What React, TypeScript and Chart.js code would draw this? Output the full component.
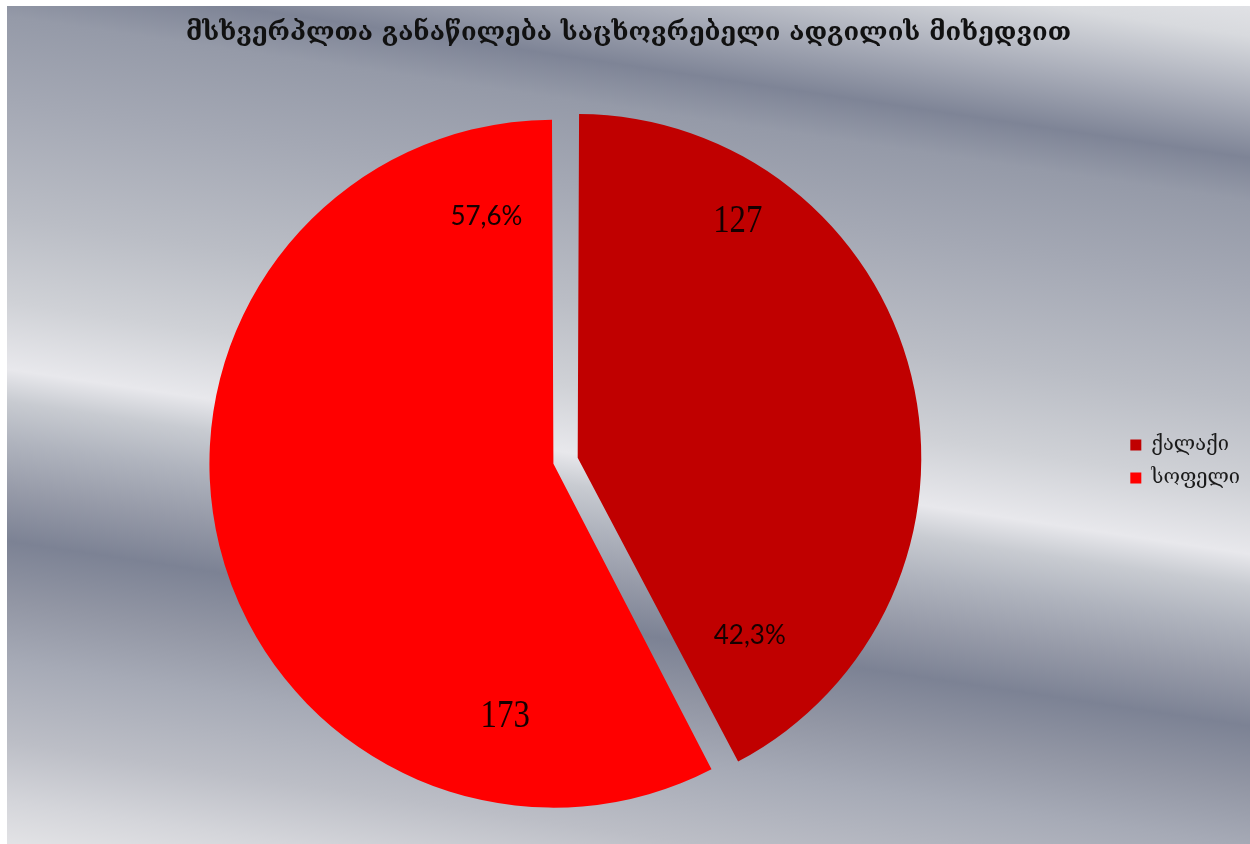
import React, { useEffect, useRef } from 'react';
import { Chart, registerables } from 'chart.js';

Chart.register(...registerables);

// ---- data ----
const chartTitle = 'მსხვერპლთა განაწილება საცხოვრებელი ადგილის მიხედვით';
const categories = ['ქალაქი', 'სოფელი'];
const values = [127, 173];
const percentLabels = ['42,3%', '57,6%'];
const sliceColors = ['#C00000', '#FF0000'];

// ---- label placement (fraction of slice angle, fraction of radius) ----
const valueLabelPlacement = [
  { angleFrac: 0.224, radiusFrac: 0.83 },
  { angleFrac: 0.185, radiusFrac: 0.748 },
];
const percentLabelPlacement = [
  { angleFrac: 0.892, radiusFrac: 0.72 },
  { angleFrac: 0.927, radiusFrac: 0.745 },
];

const CANVAS_W = 1243;
const CANVAS_H = 838;
const PAGE_X = 7;
const PAGE_Y = 6;

// background: silver band gradient, bands tilted down to the right
const bgStops: [number, string][] = [
  [-180, '#e0e1e5'],
  [-150, '#d8dade'],
  [-85, '#a8acb8'],
  [-28, '#7e8496'],
  [15, '#959aa8'],
  [100, '#a4a8b4'],
  [215, '#babdc5'],
  [300, '#cfd1d6'],
  [368, '#e8e8ec'],
  [400, '#c8cbd1'],
  [440, '#b0b4be'],
  [490, '#969aa8'],
  [540, '#7c8294'],
  [600, '#9296a4'],
  [660, '#a6aab6'],
  [740, '#bcbec6'],
  [800, '#d4d5da'],
  [860, '#e8e8ea'],
];

const backgroundPlugin = {
  id: 'silverBackground',
  beforeDraw(chart: any) {
    const ctx = chart.ctx as CanvasRenderingContext2D;
    const slope = 0.1488;
    const nLen = Math.sqrt(1 + slope * slope);
    const nx = -slope / nLen;
    const ny = 1 / nLen;
    const sMin = bgStops[0][0];
    const sMax = bgStops[bgStops.length - 1][0];
    const d = (sMax - sMin) * ny;
    const x0 = 0 - PAGE_X;
    const y0 = sMin - PAGE_Y;
    const g = ctx.createLinearGradient(x0, y0, x0 + nx * d, y0 + ny * d);
    bgStops.forEach(([s, c]) => g.addColorStop((s - sMin) / (sMax - sMin), c));
    ctx.save();
    ctx.fillStyle = g;
    ctx.fillRect(0, 0, chart.width, chart.height);
    ctx.restore();
  },
};

const sliceLabelPlugin = {
  id: 'sliceLabels',
  afterDatasetsDraw(chart: any) {
    const ctx = chart.ctx as CanvasRenderingContext2D;
    const meta = chart.getDatasetMeta(0);
    meta.data.forEach((arc: any, i: number) => {
      const p = arc.getProps(['x', 'y', 'startAngle', 'endAngle', 'outerRadius', 'circumference'], true);
      const off = (arc.options.offset || 0) / 4;
      const half = (p.startAngle + p.endAngle) / 2;
      const fix = 1 - Math.sin(Math.min(Math.PI, p.circumference));
      const cx = p.x + Math.cos(half) * off;
      const cy = p.y + Math.sin(half) * off;
      const rDrawn = p.outerRadius + off * fix;
      const place = (pl: { angleFrac: number; radiusFrac: number }) => {
        const a = p.startAngle + pl.angleFrac * (p.endAngle - p.startAngle);
        const r = pl.radiusFrac * rDrawn;
        return [cx + Math.cos(a) * r, cy + Math.sin(a) * r];
      };
      ctx.save();
      ctx.textAlign = 'center';
      ctx.textBaseline = 'middle';
      ctx.fillStyle = '#160000';
      const [vx, vy] = place(valueLabelPlacement[i]);
      ctx.font = '40px "Liberation Serif", "Times New Roman", serif';
      ctx.save();
      ctx.translate(vx, vy);
      ctx.scale(0.82, 1);
      ctx.fillText(String(values[i]), 0, 0);
      ctx.restore();
      const [px, py] = place(percentLabelPlacement[i]);
      ctx.font = '26px Lato, "Open Sans", sans-serif';
      ctx.fillText(percentLabels[i], px, py);
      ctx.restore();
    });
  },
};

export default function App() {
  const canvasRef = useRef<HTMLCanvasElement | null>(null);

  useEffect(() => {
    if (!canvasRef.current) return;
    const chart = new Chart(canvasRef.current, {
      type: 'pie',
      data: {
        labels: categories,
        datasets: [
          {
            data: values,
            backgroundColor: sliceColors,
            borderWidth: 0,
            offset: [64, 36],
            radius: 335,
          } as any,
        ],
      },
      options: {
        responsive: false,
        animation: false,
        devicePixelRatio: 1,
        layout: { padding: { left: 0, right: 0, top: 0, bottom: 0 } },
        plugins: {
          title: {
            display: true,
            text: chartTitle,
            color: '#111111',
            font: { family: '"DejaVu Serif", serif', size: 25.5, weight: 'bold' },
            padding: { top: 11.7, bottom: 30.7 },
          },
          legend: {
            display: true,
            position: 'right',
            fullSize: false,
            labels: {
              boxWidth: 11,
              boxHeight: 11,
              padding: 13,
              color: '#1a1a1a',
              font: { family: '"DejaVu Serif", serif', size: 20 },
            },
          },
          tooltip: { enabled: false },
        },
      },
      plugins: [backgroundPlugin, sliceLabelPlugin],
    });
    return () => chart.destroy();
  }, []);

  return (
    <div style={{ position: 'absolute', left: PAGE_X, top: PAGE_Y, width: CANVAS_W, height: CANVAS_H }}>
      <canvas ref={canvasRef} width={CANVAS_W} height={CANVAS_H} />
    </div>
  );
}
